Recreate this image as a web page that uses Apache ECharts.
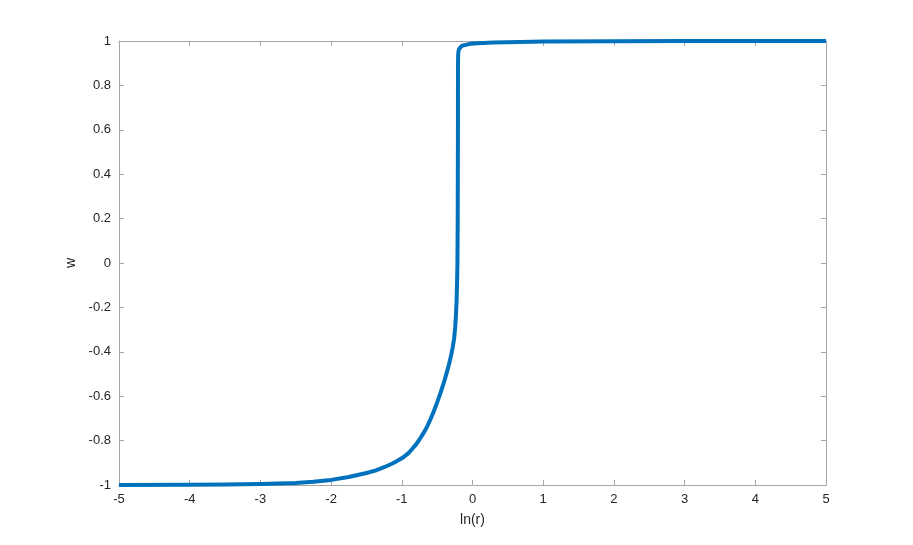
<!DOCTYPE html>
<html><head><meta charset="utf-8">
<script src="https://cdn.jsdelivr.net/npm/echarts@6/dist/echarts.min.js"></script>
<style>html,body{margin:0;padding:0;background:#fff}#c{width:913px;height:545px}</style>
</head><body><div id="c"></div>
<script>
const lnR = [-5,-4,-3.5,-3,-2.5,-2.25,-2,-1.75,-1.5,-1.375,-1.25,-1.125,-1,-0.9,-0.8,-0.75,-0.7,-0.65,-0.6,-0.55,-0.5,-0.45,-0.4,-0.35,-0.32,-0.3,-0.28,-0.26,-0.245,-0.235,-0.225,-0.218,-0.213,-0.209,-0.206,-0.205,-0.203,-0.199,-0.19,-0.175,-0.155,-0.12,-0.05,0,0.3,0.67,1,2,3,5];
const w =   [-1,-0.999,-0.998,-0.996,-0.991,-0.985,-0.977,-0.964,-0.946,-0.935,-0.92,-0.902,-0.88,-0.855,-0.818,-0.795,-0.77,-0.742,-0.708,-0.67,-0.628,-0.583,-0.533,-0.478,-0.44,-0.412,-0.38,-0.34,-0.29,-0.24,-0.17,-0.09,0,0.2,0.6,0.9,0.935,0.952,0.964,0.972,0.977,0.981,0.986,0.989,0.993,0.996,0.998,0.9993,1,1];
const xTicks = [-5,-4,-3,-2,-1,0,1,2,3,4,5];
const yTicks = [-1,-0.8,-0.6,-0.4,-0.2,0,0.2,0.4,0.6,0.8,1];
const data = lnR.map((x,i)=>[x,w[i]]);
const chart = echarts.init(document.getElementById('c'));
const axisLineStyle = {color:'#a6a6a6', width:1};
const font = 'Helvetica, Arial, "Liberation Sans", sans-serif';
const fmtY = v => String(Math.round(v*10)/10);
chart.setOption({
  animation:false,
  grid:{left:119,right:87,top:41,bottom:60},
  xAxis:[{
    type:'value', min:-5, max:5, interval:1, position:'bottom',
    name:'ln(r)', nameLocation:'middle', nameGap:28,
    nameTextStyle:{color:'#262626',fontSize:14,fontFamily:font},
    axisLine:{onZero:false,lineStyle:axisLineStyle}, axisTick:{inside:true,length:5,lineStyle:axisLineStyle},
    axisLabel:{color:'#262626',fontSize:13,margin:8,fontFamily:font},
    splitLine:{show:false}
  },{
    type:'value', min:-5, max:5, interval:1, position:'top',
    axisLine:{show:true,onZero:false,lineStyle:axisLineStyle}, axisTick:{show:true,inside:true,length:5,lineStyle:axisLineStyle},
    axisLabel:{show:false}, splitLine:{show:false}
  }],
  yAxis:[{
    type:'value', min:-1, max:1, interval:0.2, position:'left',
    name:'w', nameLocation:'middle', nameGap:40,
    nameTextStyle:{color:'#262626',fontSize:14,fontFamily:font},
    axisLine:{onZero:false,lineStyle:axisLineStyle}, axisTick:{inside:true,length:5,lineStyle:axisLineStyle},
    axisLabel:{color:'#262626',fontSize:13,margin:8,fontFamily:font,formatter:fmtY},
    splitLine:{show:false}
  },{
    type:'value', min:-1, max:1, interval:0.2, position:'right',
    axisLine:{show:true,onZero:false,lineStyle:axisLineStyle}, axisTick:{show:true,inside:true,length:5,lineStyle:axisLineStyle},
    axisLabel:{show:false}, splitLine:{show:false}
  }],
  series:[{
    type:'line', data:data, showSymbol:false, smooth:false,
    lineStyle:{color:'#0072BD', width:4, join:'round', cap:'butt'},
    clip:true
  }]
});
</script></body></html>
